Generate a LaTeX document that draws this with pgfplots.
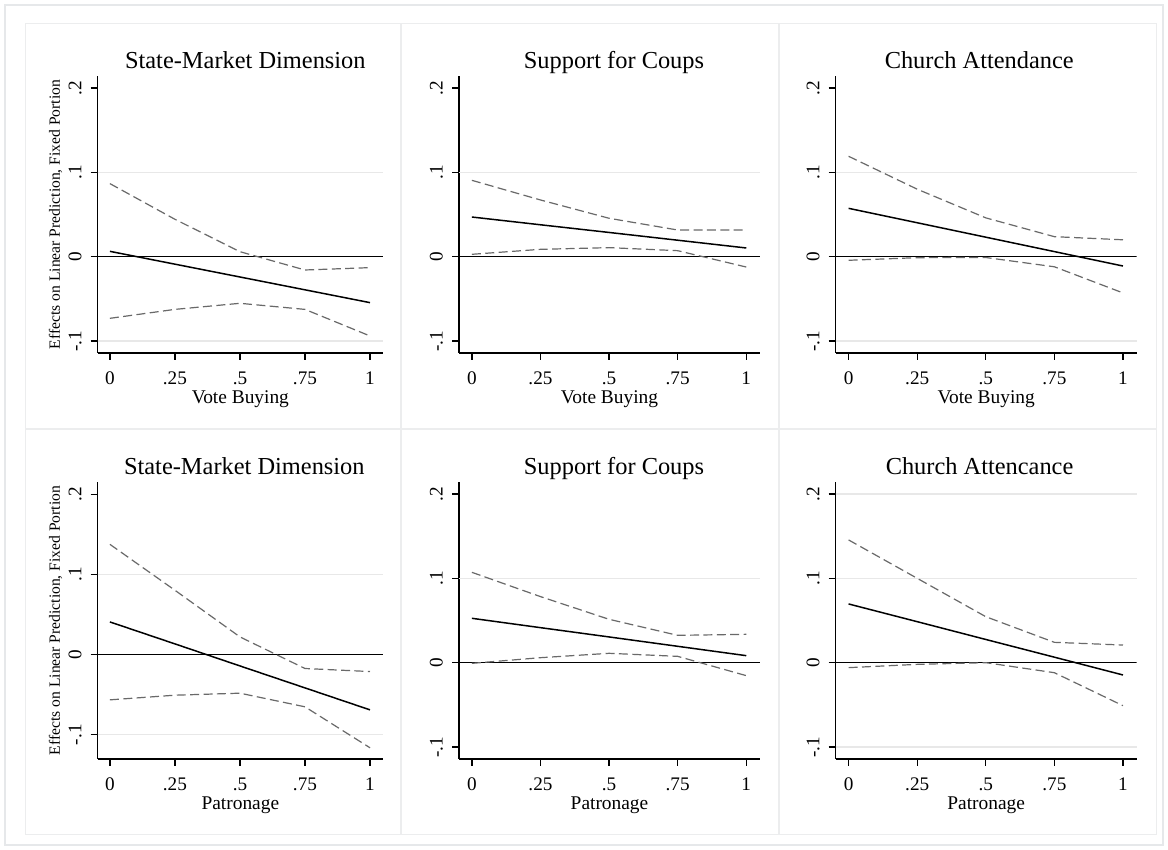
\documentclass[border=0pt]{standalone}
\usepackage{fontspec}
\setmainfont{Liberation Serif}
\usepackage{pgfplots}
\pgfplotsset{compat=1.18}
\definecolor{framec}{RGB}{230,232,234}
\definecolor{panelc}{RGB}{236,237,238}
\definecolor{gridc}{RGB}{232,232,232}
\definecolor{cic}{RGB}{105,105,105}

\pgfplotsset{
 stata/.style={
  scale only axis, height=138.5pt,
  xmin=-0.047, xmax=1.05, ymin=-0.1142, ymax=0.2142,
  axis x line*=bottom, axis y line*=left,
  axis line style={black, line width=0.6pt, -},
  xtick={0,0.25,0.5,0.75,1}, xticklabels={0,.25,.5,.75,1},
  ytick={-0.1,0,0.1,0.2}, yticklabels={-.1,0,.1,.2},
  tick align=outside, major tick length=3.5pt,
  tick style={black, line width=0.6pt},
  ticklabel style={font=\fontsize{9.6}{11}\selectfont},
  yticklabel style={xshift=-4.7pt, rotate=90, anchor=base, inner sep=0pt},
  xticklabel style={yshift=-12.4pt, anchor=base, inner sep=0pt},
  xlabel style={font=\fontsize{9.7}{11}\selectfont, at={(axis description cs:0.5,-0.184)}, anchor=base},
  ylabel style={font=\fontsize{7.8}{9}\selectfont, at={(axis description cs:-0.148,0.5)}, anchor=center},
  extra y tick style={grid=major, major grid style={gridc, line width=0.6pt}, major tick length=0pt},
  extra y tick labels={},
 },
 ttl/.style={title style={font=\fontsize{12.2}{14}\selectfont, at={(axis description cs:#1,0.9834)}, anchor=base}},
 zero/.style={black, line width=0.5pt, forget plot},
 est/.style={black, line width=0.75pt, no marks},
 ci/.style={cic, line width=0.6pt, dash pattern=on 4.5pt off 2.2pt, no marks},
}

\begin{document}
\begin{tikzpicture}
\path[use as bounding box] (0pt,0pt) rectangle (584pt,425pt);
\fill[white] (0pt,0pt) rectangle (584pt,425pt);
\draw[framec, line width=0.6pt] (2.5pt,2.5pt) rectangle (581.5pt,422.5pt);
% panel frames
\draw[panelc, line width=0.5pt] (12.5pt,210.5pt) rectangle (200pt,413pt);
\draw[panelc, line width=0.5pt] (200.5pt,210.5pt) rectangle (389pt,413pt);
\draw[panelc, line width=0.5pt] (389.5pt,210.5pt) rectangle (578pt,413pt);
\draw[panelc, line width=0.5pt] (12.5pt,7.5pt) rectangle (200pt,210pt);
\draw[panelc, line width=0.5pt] (200.5pt,7.5pt) rectangle (389pt,210pt);
\draw[panelc, line width=0.5pt] (389.5pt,7.5pt) rectangle (578pt,210pt);

% Panel 1
\begin{axis}[stata, at={(48.85pt,248.5pt)}, anchor=south west, width=142.65pt,
  ttl=0.5175, title={State-Market Dimension}, xlabel={Vote Buying},
  ylabel={Effects on Linear Prediction, Fixed Portion},
  extra y ticks={0.1,-0.1}]
\addplot[zero] coordinates {(-0.047,0) (1.05,0)};
\addplot[ci] coordinates {(0,0.0866) (0.25,0.0443) (0.5,0.0059) (0.75,-0.0158) (1,-0.0130)};
\addplot[ci] coordinates {(0,-0.0731) (0.25,-0.0625) (0.5,-0.0553) (0.75,-0.0625) (1,-0.0940)};
\addplot[est] coordinates {(0,0.0063) (0.25,-0.0089) (0.5,-0.0241) (0.75,-0.0393) (1,-0.0545)};
\end{axis}

% Panel 2
\begin{axis}[stata, at={(229.5pt,248.5pt)}, anchor=south west, width=150.5pt,
  ttl=0.515, title={Support for Coups}, xlabel={Vote Buying},
  extra y ticks={0.1}]
\addplot[zero] coordinates {(-0.047,0) (1.05,0)};
\addplot[ci] coordinates {(0,0.0905) (0.25,0.0672) (0.5,0.0455) (0.75,0.0316) (1,0.0316)};
\addplot[ci] coordinates {(0,0.0028) (0.25,0.0087) (0.5,0.0107) (0.75,0.0071) (1,-0.0123)};
\addplot[est] coordinates {(0,0.0470) (0.25,0.0378) (0.5,0.0287) (0.75,0.0195) (1,0.0103)};
\end{axis}

% Panel 3
\begin{axis}[stata, at={(417.85pt,248.5pt)}, anchor=south west, width=150.5pt,
  ttl=0.477, title={Church Attendance}, xlabel={Vote Buying},
  extra y ticks={0.1,-0.1}]
\addplot[zero] coordinates {(-0.047,0) (1.05,0)};
\addplot[ci] coordinates {(0,0.1190) (0.25,0.0800) (0.5,0.0460) (0.75,0.0237) (1,0.0200)};
\addplot[ci] coordinates {(0,-0.0043) (0.25,-0.0012) (0.5,-0.0010) (0.75,-0.0120) (1,-0.0430)};
\addplot[est] coordinates {(0,0.0573) (0.25,0.0402) (0.5,0.0231) (0.75,0.0060) (1,-0.0111)};
\end{axis}

% Panel 4
\begin{axis}[stata, at={(48.85pt,45.5pt)}, anchor=south west, width=142.65pt,
  ymin=-0.1303, ymax=0.2153,
  ttl=0.514, title={State-Market Dimension}, xlabel={Patronage},
  ylabel={Effects on Linear Prediction, Fixed Portion},
  extra y ticks={0.1,-0.1}]
\addplot[zero] coordinates {(-0.047,0) (1.05,0)};
\addplot[ci] coordinates {(0,0.1375) (0.25,0.0802) (0.5,0.0220) (0.75,-0.0174) (1,-0.0212)};
\addplot[ci] coordinates {(0,-0.0565) (0.25,-0.0507) (0.5,-0.0482) (0.75,-0.0652) (1,-0.1163)};
\addplot[est] coordinates {(0,0.0407) (0.25,0.0133) (0.5,-0.0142) (0.75,-0.0416) (1,-0.0690)};
\end{axis}

% Panel 5
\begin{axis}[stata, at={(229.5pt,45.5pt)}, anchor=south west, width=150.5pt,
  ttl=0.515, title={Support for Coups}, xlabel={Patronage},
  extra y ticks={0.1}]
\addplot[zero] coordinates {(-0.047,0) (1.05,0)};
\addplot[ci] coordinates {(0,0.1071) (0.25,0.0783) (0.5,0.0514) (0.75,0.0324) (1,0.0336)};
\addplot[ci] coordinates {(0,-0.0008) (0.25,0.0059) (0.5,0.0111) (0.75,0.0075) (1,-0.0154)};
\addplot[est] coordinates {(0,0.0526) (0.25,0.0415) (0.5,0.0305) (0.75,0.0194) (1,0.0083)};
\end{axis}

% Panel 6
\begin{axis}[stata, at={(417.85pt,45.5pt)}, anchor=south west, width=150.5pt,
  ttl=0.478, title={Church Attencance}, xlabel={Patronage},
  extra y ticks={0.2,0.1,-0.1}]
\addplot[zero] coordinates {(-0.047,0) (1.05,0)};
\addplot[ci] coordinates {(0,0.1455) (0.25,0.1000) (0.5,0.0545) (0.75,0.0241) (1,0.0209)};
\addplot[ci] coordinates {(0,-0.0059) (0.25,-0.0020) (0.5,0.0000) (0.75,-0.0119) (1,-0.0510)};
\addplot[est] coordinates {(0,0.0696) (0.25,0.0486) (0.5,0.0275) (0.75,0.0065) (1,-0.0146)};
\end{axis}
\end{tikzpicture}
\end{document}
